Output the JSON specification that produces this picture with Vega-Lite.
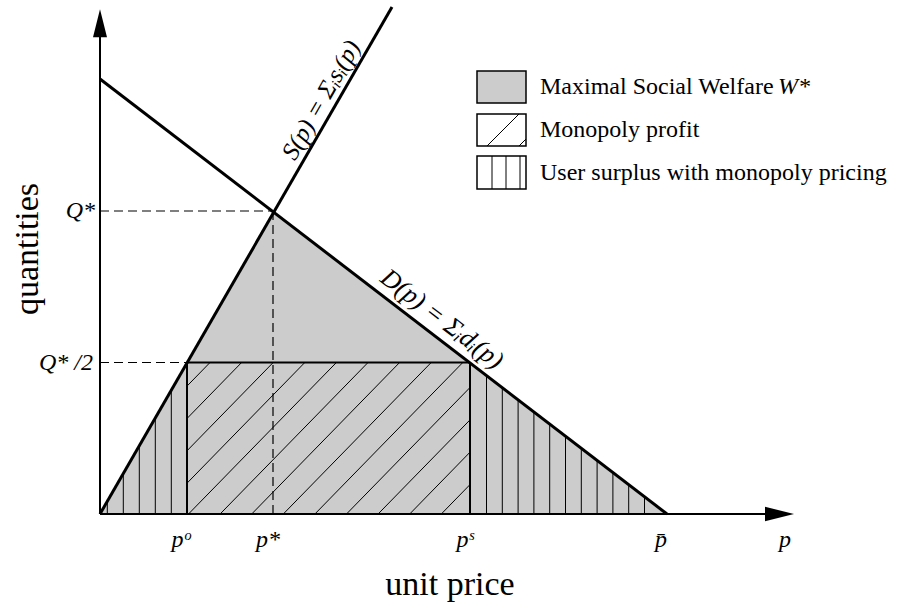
{
  "$schema": "https://vega.github.io/schema/vega-lite/v6.json",
  "width": 901,
  "height": 609,
  "autosize": "none",
  "padding": 0,
  "background": "white",
  "config": {"view": {"stroke": null}},
  "datasets": {
    "tri": [{"x": 0, "y": 0}, {"x": 173, "y": 303}, {"x": 567, "y": 0}],
    "hatch": [
      {"x": 7.3, "y": 0, "x2": 7.3, "y2": 12.8},
      {"x": 23.3, "y": 0, "x2": 23.3, "y2": 40.8},
      {"x": 39.3, "y": 0, "x2": 39.3, "y2": 68.8},
      {"x": 55.3, "y": 0, "x2": 55.3, "y2": 96.9},
      {"x": 71.3, "y": 0, "x2": 71.3, "y2": 124.9},
      {"x": 386.5, "y": 0, "x2": 386.5, "y2": 138.5},
      {"x": 402.3, "y": 0, "x2": 402.3, "y2": 126.4},
      {"x": 418.1, "y": 0, "x2": 418.1, "y2": 114.2},
      {"x": 433.9, "y": 0, "x2": 433.9, "y2": 102.1},
      {"x": 449.7, "y": 0, "x2": 449.7, "y2": 90.0},
      {"x": 465.5, "y": 0, "x2": 465.5, "y2": 77.9},
      {"x": 481.3, "y": 0, "x2": 481.3, "y2": 65.7},
      {"x": 497.1, "y": 0, "x2": 497.1, "y2": 53.6},
      {"x": 512.9, "y": 0, "x2": 512.9, "y2": 41.5},
      {"x": 528.7, "y": 0, "x2": 528.7, "y2": 29.4},
      {"x": 544.5, "y": 0, "x2": 544.5, "y2": 17.3},
      {"x": 87, "y": 127.9, "x2": 110, "y2": 151.5},
      {"x": 87, "y": 95.5, "x2": 141.6, "y2": 151.5},
      {"x": 87, "y": 63.2, "x2": 173.2, "y2": 151.5},
      {"x": 87, "y": 30.8, "x2": 204.8, "y2": 151.5},
      {"x": 88.5, "y": 0, "x2": 236.4, "y2": 151.5},
      {"x": 120.1, "y": 0, "x2": 268, "y2": 151.5},
      {"x": 151.7, "y": 0, "x2": 299.6, "y2": 151.5},
      {"x": 183.3, "y": 0, "x2": 331.2, "y2": 151.5},
      {"x": 214.9, "y": 0, "x2": 362.8, "y2": 151.5},
      {"x": 246.5, "y": 0, "x2": 370, "y2": 126.5},
      {"x": 278.1, "y": 0, "x2": 370, "y2": 94.1},
      {"x": 309.7, "y": 0, "x2": 370, "y2": 61.8},
      {"x": 341.3, "y": 0, "x2": 370, "y2": 29.4},
      {"x": 387, "y": 368, "x2": 419, "y2": 400},
      {"x": 419, "y": 368, "x2": 426, "y2": 375},
      {"x": 392, "y": 325, "x2": 392, "y2": 358},
      {"x": 406, "y": 325, "x2": 406, "y2": 358},
      {"x": 420, "y": 325, "x2": 420, "y2": 358}
    ],
    "dashed": [
      {"x": 0, "y": 303, "x2": 173, "y2": 303},
      {"x": 173, "y": 0, "x2": 173, "y2": 303},
      {"x": 0, "y": 151.5, "x2": 87, "y2": 151.5}
    ],
    "frame": [
      {"x": 87, "y": 0, "x2": 87, "y2": 151.5},
      {"x": 370, "y": 0, "x2": 370, "y2": 151.5},
      {"x": 87, "y": 151.5, "x2": 370, "y2": 151.5},
      {"x": 0, "y": 0, "x2": 0, "y2": 478},
      {"x": 0, "y": 0, "x2": 666, "y2": 0}
    ],
    "curves": [
      {"x": 0, "y": 0, "x2": 292, "y2": 507},
      {"x": 0, "y": 435, "x2": 567, "y2": 0}
    ],
    "arrowUp": [{"x": 0, "y": 490.7}],
    "arrowRight": [{"x": 679.5, "y": 0}],
    "legGray": [{"x": 377, "y": 411, "x2": 426, "y2": 443}],
    "legWhite": [
      {"x": 377, "y": 368, "x2": 426, "y2": 400},
      {"x": 377, "y": 325, "x2": 426, "y2": 358}
    ],
    "ticks": [
      {"x": 81, "y": -26, "t": "pᵒ"},
      {"x": 168, "y": -26, "t": "p*"},
      {"x": 365, "y": -26, "t": "pˢ"},
      {"x": 561, "y": -26, "t": "p̄"},
      {"x": 685, "y": -26, "t": "p"}
    ],
    "yticks": [
      {"x": -5, "y": 303, "t": "Q*"},
      {"x": -7, "y": 151.5, "t": "Q* /2"}
    ],
    "wstar": [{"x": 678, "y": 427, "t": "W*"}],
    "supplyLab": [{"x": 221, "y": 414, "t": "S(p) = Σᵢsᵢ(p)"}],
    "demandLab": [{"x": 342, "y": 195, "t": "D(p) = Σᵢdᵢ(p)"}],
    "legText": [
      {"x": 440, "y": 427, "t": "Maximal Social Welfare"},
      {"x": 440, "y": 384, "t": "Monopoly profit"},
      {"x": 440, "y": 341.5, "t": "User surplus with monopoly pricing"}
    ],
    "xtitle": [{"x": 350, "y": -71, "t": "unit price"}],
    "ytitle": [{"x": -72, "y": 265, "t": "quantities"}]
  },
  "encoding": {
    "x": {"field": "x", "type": "quantitative", "scale": {"domain": [-100, 801], "nice": false, "zero": false}, "axis": null},
    "y": {"field": "y", "type": "quantitative", "scale": {"domain": [-95, 514], "nice": false, "zero": false}, "axis": null}
  },
  "layer": [
    {
      "data": {"name": "tri"},
      "mark": {"type": "area", "color": "#cccccc", "opacity": 1},
      "encoding": {"y2": {"datum": 0}}
    },
    {
      "data": {"name": "legGray"},
      "mark": {"type": "rect", "fill": "#cccccc", "stroke": "black", "strokeWidth": 1.5},
      "encoding": {"x2": {"field": "x2"}, "y2": {"field": "y2"}}
    },
    {
      "data": {"name": "legWhite"},
      "mark": {"type": "rect", "fill": "white", "stroke": "black", "strokeWidth": 1.5},
      "encoding": {"x2": {"field": "x2"}, "y2": {"field": "y2"}}
    },
    {
      "data": {"name": "hatch"},
      "mark": {"type": "rule", "color": "black", "strokeWidth": 1},
      "encoding": {"x2": {"field": "x2"}, "y2": {"field": "y2"}}
    },
    {
      "data": {"name": "dashed"},
      "mark": {"type": "rule", "color": "black", "strokeWidth": 1.2, "strokeDash": [9, 5]},
      "encoding": {"x2": {"field": "x2"}, "y2": {"field": "y2"}}
    },
    {
      "data": {"name": "frame"},
      "mark": {"type": "rule", "color": "black", "strokeWidth": 2},
      "encoding": {"x2": {"field": "x2"}, "y2": {"field": "y2"}}
    },
    {
      "data": {"name": "curves"},
      "mark": {"type": "rule", "color": "black", "strokeWidth": 3},
      "encoding": {"x2": {"field": "x2"}, "y2": {"field": "y2"}}
    },
    {
      "data": {"name": "arrowUp"},
      "mark": {"type": "point", "shape": "M0,-1 L0.5,1 L-0.5,1 Z", "size": 784, "filled": true, "color": "black", "opacity": 1}
    },
    {
      "data": {"name": "arrowRight"},
      "mark": {"type": "point", "shape": "M1,0 L-1,-0.5 L-1,0.5 Z", "size": 841, "filled": true, "color": "black", "opacity": 1}
    },
    {
      "data": {"name": "ticks"},
      "mark": {"type": "text", "font": "Liberation Serif", "fontStyle": "italic", "fontSize": 24, "align": "center", "baseline": "middle", "color": "black"},
      "encoding": {"text": {"field": "t"}}
    },
    {
      "data": {"name": "yticks"},
      "mark": {"type": "text", "font": "Liberation Serif", "fontStyle": "italic", "fontSize": 24, "align": "right", "baseline": "middle", "color": "black"},
      "encoding": {"text": {"field": "t"}}
    },
    {
      "data": {"name": "wstar"},
      "mark": {"type": "text", "font": "Liberation Serif", "fontStyle": "italic", "fontSize": 24, "align": "left", "baseline": "middle", "color": "black"},
      "encoding": {"text": {"field": "t"}}
    },
    {
      "data": {"name": "supplyLab"},
      "mark": {"type": "text", "font": "Liberation Serif", "fontStyle": "italic", "fontSize": 25, "align": "center", "baseline": "middle", "angle": -60.3, "color": "black"},
      "encoding": {"text": {"field": "t"}}
    },
    {
      "data": {"name": "demandLab"},
      "mark": {"type": "text", "font": "Liberation Serif", "fontStyle": "italic", "fontSize": 26, "align": "center", "baseline": "middle", "angle": 37.5, "color": "black"},
      "encoding": {"text": {"field": "t"}}
    },
    {
      "data": {"name": "legText"},
      "mark": {"type": "text", "font": "Liberation Serif", "fontSize": 24, "align": "left", "baseline": "middle", "color": "black"},
      "encoding": {"text": {"field": "t"}}
    },
    {
      "data": {"name": "xtitle"},
      "mark": {"type": "text", "font": "Liberation Serif", "fontSize": 34, "align": "center", "baseline": "middle", "color": "black"},
      "encoding": {"text": {"field": "t"}}
    },
    {
      "data": {"name": "ytitle"},
      "mark": {"type": "text", "font": "Liberation Serif", "fontSize": 34, "align": "center", "baseline": "middle", "angle": -90, "color": "black"},
      "encoding": {"text": {"field": "t"}}
    }
  ]
}
